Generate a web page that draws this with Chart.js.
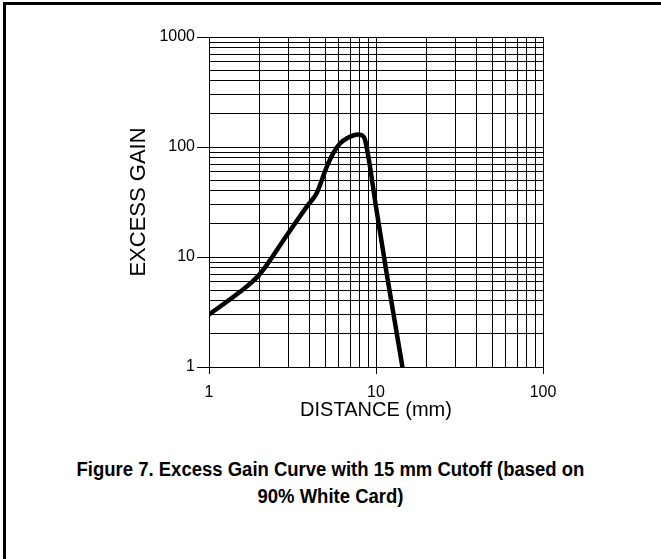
<!DOCTYPE html>
<html>
<head>
<meta charset="utf-8">
<script src="https://cdn.jsdelivr.net/npm/chart.js@4"></script>
<style>
  body { margin: 0; background: #fff; width: 661px; height: 559px; overflow: hidden; position: relative; }
  #frame { position: absolute; left: 3px; top: 2px; width: 700px; height: 600px;
           border-left: 3px solid #000; border-top: 3px solid #000; }
  #chart { position: absolute; left: 0; top: 0; }
  #caption { position: absolute; left: 0; top: 456px; width: 661px; text-align: center;
             font: bold 20px "Liberation Sans", Arial, sans-serif; line-height: 27px; color: #000;
             transform: scaleX(0.925); transform-origin: 330px 0; }
</style>
</head>
<body>
<div id="frame"></div>
<canvas id="chart" width="661" height="440"></canvas>
<div id="caption">Figure 7. Excess Gain Curve with 15 mm Cutoff (based on<br>90% White Card)</div>
<script>
// curve (log-log)
const distance   = [1, 1.5, 2, 2.8, 3.85, 4.41, 5.07, 5.55, 6.1, 6.7, 7.8, 8.3, 8.6, 10.1, 11.6, 14.4];
const excessGain = [3, 4.7, 6.9, 14.3, 28.7, 38, 66, 88, 108, 120, 130, 127, 116, 26, 7, 1];

const xMajor = [1, 10, 100];
const yMajor = [1, 10, 100, 1000];
const minorSteps = [2, 3, 4, 5, 6, 7, 8, 9];

const FONT = '"Liberation Sans", Arial, sans-serif';

function logTicks(majors) {
    const ticks = [];
    majors.forEach((m, i) => {
        ticks.push({ value: m, major: true });
        if (i < majors.length - 1) {
            minorSteps.forEach(s => ticks.push({ value: m * s, major: false }));
        }
    });
    return ticks;
}

const gridOpts = {
    color: '#000',
    lineWidth: 1,
    drawTicks: true,
    tickColor: (ctx) => (ctx.tick && ctx.tick.major) ? '#000' : 'rgba(0,0,0,0)'
};

new Chart(document.getElementById('chart').getContext('2d'), {
    type: 'line',
    data: {
        datasets: [{
            data: distance.map((d, i) => ({ x: d, y: excessGain[i] })),
            borderColor: '#000',
            borderWidth: 4.5,
            borderCapStyle: 'round',
            borderJoinStyle: 'round',
            pointRadius: 0,
            cubicInterpolationMode: 'monotone',
            fill: false
        }]
    },
    options: {
        responsive: false,
        animation: false,
        devicePixelRatio: 1,
        layout: { padding: { left: 122, right: 118, top: 37, bottom: 14 } },
        plugins: { legend: { display: false }, tooltip: { enabled: false } },
        scales: {
            x: {
                type: 'logarithmic',
                min: 1, max: 100,
                afterBuildTicks: (scale) => { scale.ticks = logTicks(xMajor); },
                afterFit: (scale) => { scale.height = 59; },
                grid: { ...gridOpts, tickLength: 7 },
                border: { color: '#000', width: 1 },
                ticks: {
                    autoSkip: false, maxRotation: 0, padding: 9,
                    color: '#000', font: { family: FONT, size: 16 },
                    callback: (v) => xMajor.includes(v) ? String(v) : ''
                },
                title: { display: true, text: 'DISTANCE (mm)', color: '#000',
                         font: { family: FONT, size: 20 }, padding: { top: 4, bottom: 4 } }
            },
            y: {
                type: 'logarithmic',
                min: 1, max: 1000,
                afterBuildTicks: (scale) => { scale.ticks = logTicks(yMajor); },
                afterFit: (scale) => { scale.width = 87; },
                grid: { ...gridOpts, tickLength: 12 },
                border: { color: '#000', width: 1 },
                ticks: {
                    autoSkip: false, padding: 2,
                    color: '#000', font: { family: FONT, size: 16 },
                    callback: (v) => yMajor.includes(v) ? String(v) : ''
                },
                title: { display: true, text: 'EXCESS GAIN', color: '#000',
                         font: { family: FONT, size: 22 }, padding: { top: 4, bottom: 4 } }
            }
        }
    }
});
</script>
</body>
</html>
